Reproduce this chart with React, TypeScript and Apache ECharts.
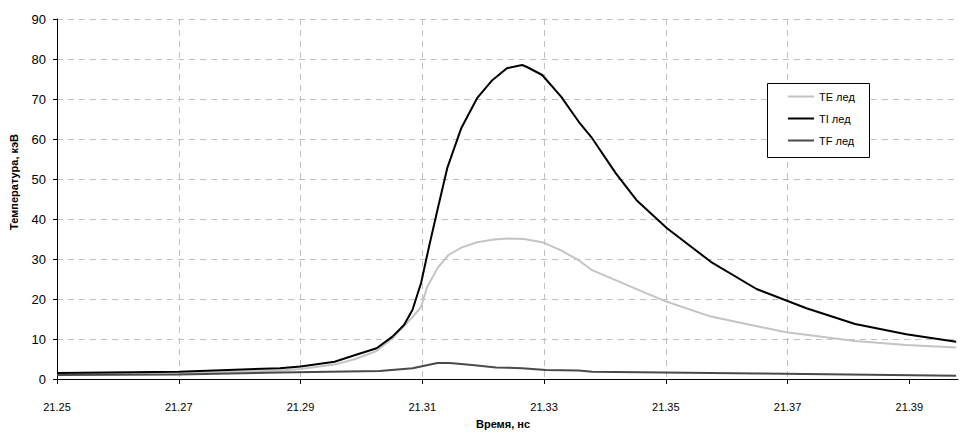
import React, { useEffect, useRef } from "react";
import * as echarts from "echarts";

// Time (ns) and temperature (keV) values
const TI_TIME = [21.25, 21.27, 21.2866, 21.29, 21.2956, 21.299, 21.3025, 21.3051, 21.307, 21.3084, 21.3098, 21.3111, 21.3125, 21.3141, 21.3164, 21.319, 21.3215, 21.3239, 21.3264, 21.3272, 21.3297, 21.3328, 21.3357, 21.3379, 21.3418, 21.3452, 21.3502, 21.3574, 21.3649, 21.3731, 21.3811, 21.3895, 21.3977];
const TI_VALUES = [1.5, 1.8, 2.7, 3.1, 4.3, 6.0, 7.7, 10.6, 13.5, 17.3, 24, 33, 42.3, 52.7, 62.7, 70.2, 74.7, 77.7, 78.5, 78, 76, 70.6, 64.3, 60.2, 51.4, 44.7, 37.7, 29.3, 22.5, 17.7, 13.75, 11.2, 9.3];

const TE_TIME = [21.25, 21.27, 21.2866, 21.29, 21.2956, 21.299, 21.3025, 21.3051, 21.3084, 21.3098, 21.3108, 21.3125, 21.3143, 21.3165, 21.319, 21.3218, 21.3243, 21.3267, 21.3297, 21.3327, 21.3357, 21.3379, 21.3456, 21.3502, 21.3574, 21.3652, 21.3698, 21.3811, 21.3895, 21.3977];
const TE_VALUES = [1.2, 1.4, 2.1, 2.5, 3.6, 5.0, 7.0, 10.2, 15.5, 18, 23, 27.7, 31, 32.9, 34.2, 34.9, 35.1, 35.0, 34.2, 32.2, 29.7, 27.2, 22.2, 19.3, 15.6, 13.1, 11.7, 9.5, 8.5, 7.9];

const TF_TIME = [21.25, 21.27, 21.2866, 21.303, 21.3084, 21.3125, 21.3145, 21.3182, 21.3221, 21.3264, 21.3303, 21.3357, 21.3379, 21.3651, 21.3977];
const TF_VALUES = [1.0, 1.1, 1.6, 2.0, 2.7, 4.0, 4.0, 3.5, 2.9, 2.7, 2.25, 2.1, 1.8, 1.4, 0.8];

const SERIES_NAMES = ["TE лед", "TI лед", "TF лед"];
const X_TICK_LABELS = ["21.25", "21.27", "21.29", "21.31", "21.33", "21.35", "21.37", "21.39"];
const X_START = 21.25;
const X_END = 21.398;
const X_STEP = 0.02;
const Y_MAX = 90;
const Y_STEP = 10;

const FONT = "'Liberation Sans', Arial, sans-serif";

function toPairs(times: number[], values: number[]) {
  return times.map((t, i) => [+(t - X_START).toFixed(5), values[i]]);
}

export default function App() {
  const ref = useRef<HTMLDivElement>(null);
  useEffect(() => {
    if (!ref.current) return;
    const chart = echarts.init(ref.current, undefined, { renderer: "svg" });
    const tickValues = X_TICK_LABELS.map((_, i) => +(i * X_STEP).toFixed(5));
    const dashed = { color: "#c0c0c0", width: 1, type: [6, 5] as any };
    chart.setOption({
      animation: false,
      backgroundColor: "#fff",
      grid: { left: 57, top: 19, right: 3, bottom: 54, containLabel: false },
      xAxis: {
        type: "value",
        min: 0,
        max: +(X_END - X_START).toFixed(5),
        interval: X_STEP,
        axisLine: { show: true, lineStyle: { color: "#000", width: 1 } },
        axisTick: { show: true, inside: false, length: 5, lineStyle: { color: "#000" }, customValues: tickValues },
        axisLabel: {
          show: true,
          margin: 22,
          fontSize: 11,
          fontFamily: FONT,
          color: "#000",
          customValues: tickValues,
          formatter: (v: number) => (X_START + v).toFixed(2),
        },
        splitLine: { show: true, lineStyle: dashed, showMinLine: false, showMaxLine: false },
      },
      yAxis: {
        type: "value",
        min: 0,
        max: Y_MAX,
        interval: Y_STEP,
        axisLine: { show: true, lineStyle: { color: "#000", width: 1 } },
        axisTick: { show: true, inside: false, length: 4, lineStyle: { color: "#000" } },
        axisLabel: { margin: 11, fontSize: 13, fontFamily: FONT, color: "#000" },
        splitLine: { show: true, lineStyle: dashed, showMinLine: false },
      },
      legend: {
        show: true,
        orient: "vertical",
        left: 783,
        top: 86,
        icon: "rect",
        itemWidth: 26,
        itemHeight: 2,
        itemGap: 11,
        data: SERIES_NAMES,
        textStyle: { fontSize: 11, fontFamily: FONT, color: "#000" },
        z: 10,
      },
      graphic: [
        {
          type: "rect",
          z: 5,
          shape: { x: 767.5, y: 83.5, width: 102, height: 74 },
          style: { fill: "#fff", stroke: "#000", lineWidth: 1 },
        },
        {
          type: "text",
          x: 14,
          y: 182,
          rotation: Math.PI / 2,
          style: {
            text: "Температура, кэВ",
            fontSize: 11,
            fontWeight: "bold",
            fontFamily: FONT,
            fill: "#000",
            align: "center",
            verticalAlign: "middle",
          },
        },
        {
          type: "text",
          x: 503,
          y: 424,
          style: {
            text: "Время, нс",
            fontSize: 11,
            fontWeight: "bold",
            fontFamily: FONT,
            fill: "#000",
            align: "center",
            verticalAlign: "middle",
          },
        },
      ],
      series: [
        {
          name: SERIES_NAMES[0],
          type: "line",
          symbol: "none",
          data: toPairs(TE_TIME, TE_VALUES),
          lineStyle: { color: "#c4c4c4", width: 2 },
          itemStyle: { color: "#c4c4c4" },
          z: 2,
        },
        {
          name: SERIES_NAMES[1],
          type: "line",
          symbol: "none",
          data: toPairs(TI_TIME, TI_VALUES),
          lineStyle: { color: "#000", width: 2 },
          itemStyle: { color: "#000" },
          z: 3,
        },
        {
          name: SERIES_NAMES[2],
          type: "line",
          symbol: "none",
          data: toPairs(TF_TIME, TF_VALUES),
          lineStyle: { color: "#4a4a4a", width: 2 },
          itemStyle: { color: "#4a4a4a" },
          z: 2,
        },
      ],
    });
    return () => chart.dispose();
  }, []);
  return <div ref={ref} style={{ width: 961, height: 433, position: "absolute", left: 0, top: 0 }} />;
}
